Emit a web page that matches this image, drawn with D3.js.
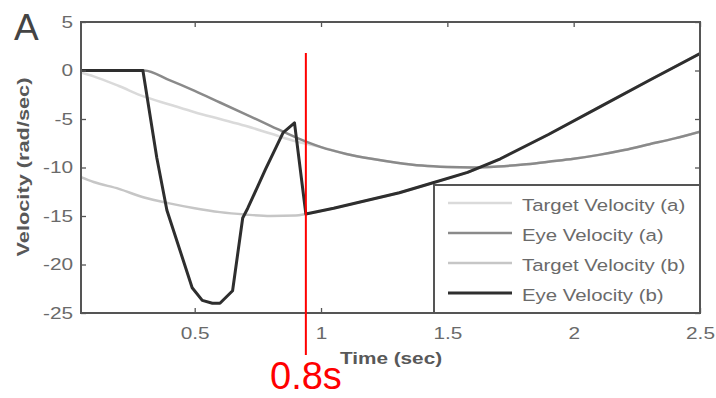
<!DOCTYPE html>
<html>
<head>
<meta charset="utf-8">
<script src="https://cdn.jsdelivr.net/npm/d3@7"></script>
<style>
  body { margin: 0; background: #fff; }
  svg { display: block; font-family: "Liberation Sans", Arial, sans-serif; }
</style>
</head>
<body>
<svg id="chart"></svg>
<script>
// values
const targetATime = [0.05, 0.1, 0.2, 0.3, 0.4, 0.5, 0.6, 0.7, 0.8, 0.9, 1.0, 1.1, 1.2, 1.3, 1.4, 1.5, 1.6, 1.7, 1.8, 1.9, 2.0, 2.1, 2.2, 2.3, 2.4, 2.5];
const targetAVel  = [-0.2, -0.6, -1.6, -2.7, -3.5, -4.3, -5.0, -5.7, -6.5, -7.3, -7.9, -8.6, -9.1, -9.5, -9.8, -9.95, -10.0, -9.9, -9.7, -9.4, -9.1, -8.7, -8.2, -7.6, -7.0, -6.3];

const eyeATime = [0.05, 0.3, 0.4, 0.5, 0.6, 0.7, 0.8, 0.9, 1.0, 1.1, 1.2, 1.3, 1.4, 1.5, 1.6, 1.7, 1.8, 1.9, 2.0, 2.1, 2.2, 2.3, 2.4, 2.5];
const eyeAVel  = [0, 0, -1.0, -2.1, -3.3, -4.5, -5.7, -6.9, -7.9, -8.6, -9.1, -9.5, -9.8, -9.95, -10.0, -9.9, -9.7, -9.4, -9.1, -8.7, -8.2, -7.6, -7.0, -6.3];

const targetBTime = [0.05, 0.1, 0.2, 0.3, 0.4, 0.5, 0.6, 0.7, 0.8, 0.9, 0.94, 1.05, 1.18, 1.31, 1.44, 1.58, 1.71, 1.9, 2.1, 2.3, 2.5];
const targetBVel  = [-11.0, -11.5, -12.2, -13.1, -13.7, -14.2, -14.6, -14.85, -15.0, -14.95, -14.8, -14.2, -13.4, -12.6, -11.6, -10.5, -9.1, -6.6, -3.8, -1.0, 1.75];

const eyeBTime = [0.05, 0.295, 0.35, 0.39, 0.45, 0.49, 0.53, 0.57, 0.60, 0.65, 0.69, 0.71, 0.78, 0.85, 0.895, 0.94, 1.05, 1.18, 1.31, 1.44, 1.58, 1.71, 1.9, 2.1, 2.3, 2.5];
const eyeBVel  = [0, 0, -9.0, -14.4, -19.2, -22.4, -23.7, -24.0, -24.0, -22.7, -15.2, -14.2, -10.2, -6.4, -5.4, -14.8, -14.2, -13.4, -12.6, -11.6, -10.5, -9.1, -6.6, -3.8, -1.0, 1.75];

const xTicks = [0.5, 1, 1.5, 2, 2.5];
const yTicks = [-25, -20, -15, -10, -5, 0, 5];
const seriesNames = ['Target Velocity (a)', 'Eye Velocity (a)', 'Target Velocity (b)', 'Eye Velocity (b)'];
const markerTime = 0.94;
const markerLabel = '0.8s';

const width = 716, height = 398;
const margin = {top: 22, right: 16, bottom: 85, left: 81};

const svg = d3.select('#chart').attr('width', width).attr('height', height);

const x = d3.scaleLinear().domain([0.05, 2.5]).range([margin.left, width - margin.right]);
const y = d3.scaleLinear().domain([-25, 5]).range([height - margin.bottom, margin.top]);

const series = [
    {name: seriesNames[0], t: targetATime, v: targetAVel, color: '#dadada', w: 2.5, curve: d3.curveMonotoneX},
    {name: seriesNames[1], t: eyeATime, v: eyeAVel, color: '#8a8a8a', w: 2.5, curve: d3.curveMonotoneX},
    {name: seriesNames[2], t: targetBTime, v: targetBVel, color: '#c6c6c6', w: 2.5, curve: d3.curveMonotoneX},
    {name: seriesNames[3], t: eyeBTime, v: eyeBVel, color: '#2e2e2e', w: 3, curve: d3.curveLinear}
];

// draw order: lighter lines underneath
const drawOrder = [0, 2, 1, 3];

svg.append('defs').append('clipPath').attr('id', 'plot-clip')
    .append('rect')
    .attr('x', x.range()[0]).attr('y', y.range()[1])
    .attr('width', x.range()[1] - x.range()[0])
    .attr('height', y.range()[0] - y.range()[1]);

const lines = svg.append('g').attr('clip-path', 'url(#plot-clip)');
drawOrder.forEach(i => {
    const s = series[i];
    const pts = s.t.map((t, j) => [t, s.v[j]]);
    lines.append('path')
        .datum(pts)
        .attr('fill', 'none')
        .attr('stroke', s.color)
        .attr('stroke-width', s.w)
        .attr('stroke-linejoin', 'round')
        .attr('d', d3.line().x(d => x(d[0])).y(d => y(d[1])).curve(s.curve));
});

// axes, ticks pointing inward (matlab box)
const axisColor = '#555';
const labelColor = '#6a6a6a';
const stretch = 1.3;
const plain = d => String(d);   // hyphen minus like the original

const xAxis = svg.append('g')
    .attr('transform', `translate(0,${y.range()[0]})`)
    .call(d3.axisBottom(x).tickValues(xTicks).tickSizeInner(-5).tickSizeOuter(0).tickPadding(15).tickFormat(plain));
const yAxis = svg.append('g')
    .attr('transform', `translate(${x.range()[0]},0)`)
    .call(d3.axisLeft(y).tickValues(yTicks).tickSizeInner(-5).tickSizeOuter(0).tickFormat(plain));
const xTop = svg.append('g')
    .attr('transform', `translate(0,${y.range()[1]})`)
    .call(d3.axisTop(x).tickValues(xTicks).tickSizeInner(-5).tickSizeOuter(0).tickFormat(''));
const yRight = svg.append('g')
    .attr('transform', `translate(${x.range()[1]},0)`)
    .call(d3.axisRight(y).tickValues(yTicks).tickSizeInner(-5).tickSizeOuter(0).tickFormat(''));

[xAxis, yAxis, xTop, yRight].forEach(g => {
    g.select('.domain').remove();
    g.selectAll('line').attr('stroke', axisColor).attr('stroke-width', 1.3);
    g.selectAll('text')
        .attr('fill', labelColor)
        .style('font-size', '16px')
        .attr('transform', `scale(${stretch},1)`);
});
yAxis.selectAll('text').attr('x', -8 / stretch);

// box
svg.append('rect')
    .attr('x', x.range()[0]).attr('y', y.range()[1])
    .attr('width', x.range()[1] - x.range()[0])
    .attr('height', y.range()[0] - y.range()[1])
    .attr('fill', 'none')
    .attr('stroke', axisColor)
    .attr('stroke-width', 2);

// axis titles
svg.append('g')
    .attr('transform', `translate(391,364) scale(1.22,1)`)
    .append('text')
    .attr('text-anchor', 'middle')
    .attr('font-weight', 'bold')
    .attr('fill', '#585858')
    .style('font-size', '17px')
    .text('Time (sec)');

svg.append('g')
    .attr('transform', `translate(29,167) rotate(-90) scale(1.28,1)`)
    .append('text')
    .attr('text-anchor', 'middle')
    .attr('font-weight', 'bold')
    .attr('fill', '#585858')
    .style('font-size', '17px')
    .text('Velocity (rad/sec)');

svg.append('text')
    .attr('x', 14).attr('y', 40)
    .attr('fill', '#444')
    .style('font-size', '37px')
    .text('A');

// legend
const legend = svg.append('g').attr('transform', 'translate(434,185)');
legend.append('rect')
    .attr('width', x.range()[1] - 434)
    .attr('height', y.range()[0] - 185)
    .attr('fill', '#fff')
    .attr('stroke', axisColor)
    .attr('stroke-width', 2);

const entries = legend.selectAll('.entry')
    .data(series)
    .join('g')
    .attr('class', 'entry')
    .attr('transform', (d, i) => `translate(0,${18 + i * 30})`);
entries.append('line')
    .attr('x1', 14).attr('x2', 78)
    .attr('stroke', d => d.color)
    .attr('stroke-width', d => d.w);
entries.append('g')
    .attr('transform', `translate(88,8) scale(1.2,1)`)
    .append('text')
    .attr('fill', labelColor)
    .style('font-size', '17px')
    .text(d => d.name);

// red marker added on top of the figure
svg.append('line')
    .attr('x1', x(markerTime)).attr('x2', x(markerTime))
    .attr('y1', 53).attr('y2', 355)
    .attr('stroke', '#ff0000')
    .attr('stroke-width', 2);
svg.append('text')
    .attr('x', 270).attr('y', 389)
    .attr('fill', '#ff0000')
    .style('font-size', '38px')
    .text(markerLabel);
</script>
</body>
</html>
